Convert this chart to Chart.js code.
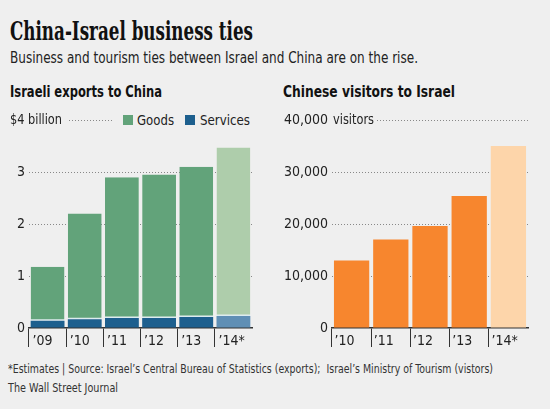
<!DOCTYPE html>
<html>
<head>
<meta charset="utf-8">
<script src="https://cdn.jsdelivr.net/npm/chart.js@4/dist/chart.umd.min.js"></script>
<style>
    body { margin: 0; background: #efefef; }
    #wrap { position: relative; width: 550px; height: 409px; background: #efefef; font-family: 'DejaVu Sans Condensed', 'DejaVu Sans', sans-serif; color: #111; overflow: hidden; }
    .abs { position: absolute; white-space: nowrap; transform-origin: 0 0; line-height: 1; }
    #title { left: 10px; top: 18px; font-family: 'DejaVu Serif Condensed', 'DejaVu Serif', serif; font-weight: bold; font-size: 26px; }
    #sub { left: 10px; top: 51px; font-size: 15px; color: #222; }
    .head { font-weight: bold; font-size: 15px; top: 85px; }
    .leg { top: 113px; font-size: 14px; color: #222; }
    .sw { position: absolute; width: 10px; height: 10px; top: 115px; }
    .foot { left: 8px; font-size: 13px; color: #333; }
    canvas { position: absolute; }
</style>
</head>
<body>
<div id="wrap">
    <div class="abs" id="title" data-w="243">China-Israel business ties</div>
    <div class="abs" id="sub" data-w="408">Business and tourism ties between Israel and China are on the rise.</div>
    <div class="abs head" style="left:10px" data-w="152">Israeli exports to China</div>
    <div class="abs head" style="left:283px" data-w="172">Chinese visitors to Israel</div>
    <div class="sw" style="left:123px; background:#62a37a"></div>
    <div class="abs leg" style="left:137px" data-w="37">Goods</div>
    <div class="sw" style="left:185px; background:#1d5f8e"></div>
    <div class="abs leg" style="left:200px" data-w="50">Services</div>
    <canvas id="exports" style="left:0; top:105px"></canvas>
    <canvas id="visitors" style="left:275px; top:105px"></canvas>
    <div class="abs foot" style="top:362px" data-w="485">*Estimates | Source: Israel’s Central Bureau of Statistics (exports);&nbsp; Israel’s Ministry of Tourism (vistors)</div>
    <div class="abs foot" style="top:381px" data-w="110">The Wall Street Journal</div>
</div>
<script>
// exports, $ billion (2014 estimated)
const exportYears = ['’09', '’10', '’11', '’12', '’13', '’14*']
const services = [0.14, 0.17, 0.19, 0.19, 0.21, 0.23]
const goods = [1.04, 2.03, 2.71, 2.76, 2.89, 3.24]
const exportTicks = [0, 1, 2, 3, 4]

// visitors (2014 estimated)
const visitorYears = ['’10', '’11', '’12', '’13', '’14*']
const visitors = [13000, 17000, 19600, 25400, 35000]
const visitorTicks = [0, 10000, 20000, 30000, 40000]

const FONT = "'DejaVu Sans Condensed', 'DejaVu Sans', sans-serif"

// squeeze the html texts to the widths of the original lettering
document.querySelectorAll('[data-w]').forEach((el) => {
    const w = el.getBoundingClientRect().width
    el.style.transform = 'scaleX(' + +el.dataset.w / w + ')'
})

function shade(n, normal, est) {
    return Array.from({ length: n }, (_, i) => (i === n - 1 ? est : normal))
}

// unit text and the short dotted line on the top tick
function topLabel(text, textX, textW, lineFrom, lineTo) {
    return {
        id: 'topLabel',
        afterDraw(chart) {
            const ctx = chart.ctx,
                y = chart.scales.y.getPixelForValue(chart.scales.y.max)
            ctx.save()
            ctx.font = '14px ' + FONT
            ctx.fillStyle = '#222'
            ctx.textBaseline = 'middle'
            const k = textW / ctx.measureText(text).width
            ctx.translate(textX, y)
            ctx.scale(k, 1)
            ctx.fillText(text, 0, 0)
            ctx.restore()
            ctx.save()
            ctx.strokeStyle = '#888'
            ctx.lineWidth = 1
            ctx.setLineDash([1, 2])
            ctx.beginPath()
            ctx.moveTo(lineFrom, y + 0.5)
            ctx.lineTo(lineTo, y + 0.5)
            ctx.stroke()
            ctx.restore()
        },
    }
}

function baseOptions(ticks, yWidth, padRight, labelShift, fmt) {
    const top = ticks[ticks.length - 1]
    return {
        responsive: false,
        animation: false,
        layout: { padding: { top: 15, right: padRight } },
        plugins: { legend: { display: false }, tooltip: { enabled: false } },
        scales: {
            x: {
                stacked: true,
                afterFit: (s) => (s.height = 27),
                border: { display: true, color: '#333', width: 1.5 },
                grid: {
                    offset: true,
                    drawOnChartArea: false,
                    drawTicks: true,
                    tickLength: 19,
                    lineWidth: 1,
                    color: (c) => (c.type === 'tick' ? '#333' : 'rgba(0,0,0,0)'),
                },
                ticks: {
                    align: 'start',
                    labelOffset: labelShift,
                    padding: -14,
                    color: '#222',
                    font: { family: FONT, size: 14 },
                },
            },
            y: {
                stacked: true,
                min: 0,
                max: top,
                afterFit: (s) => (s.width = yWidth),
                afterBuildTicks: (s) => (s.ticks = ticks.map((v) => ({ value: v }))),
                border: { display: false, dash: [1, 2] },
                grid: {
                    drawTicks: false,
                    color: (c) =>
                        c.tick && c.tick.value > 0 && c.tick.value < top ? '#888' : 'rgba(0,0,0,0)',
                    lineWidth: 1,
                },
                ticks: {
                    padding: 4,
                    color: '#222',
                    font: { family: FONT, size: 14 },
                    callback: fmt,
                },
            },
        },
    }
}

const exportsCanvas = document.getElementById('exports')
exportsCanvas.width = 270
exportsCanvas.height = 250
new Chart(exportsCanvas, {
    type: 'bar',
    data: {
        labels: exportYears,
        datasets: [
            {
                label: 'Services',
                data: services,
                backgroundColor: shade(services.length, '#1d5f8e', '#5f8fb5'),
                barPercentage: 0.91,
                categoryPercentage: 1,
                borderWidth: 0,
            },
            {
                label: 'Goods',
                data: goods,
                backgroundColor: shade(goods.length, '#62a37a', '#aecdab'),
                barPercentage: 0.91,
                categoryPercentage: 1,
                borderSkipped: false,
                borderWidth: { top: 0, left: 0, right: 0, bottom: 1.5 },
                borderColor: '#dcecef',
            },
        ],
    },
    options: baseOptions(exportTicks, 29, 18, -15, (v) => (v === 4 ? '' : v)),
    plugins: [topLabel('$4 billion', 10, 52, 69, 112)],
})

const visitorsCanvas = document.getElementById('visitors')
visitorsCanvas.width = 275
visitorsCanvas.height = 250
new Chart(visitorsCanvas, {
    type: 'bar',
    data: {
        labels: visitorYears,
        datasets: [
            {
                label: 'Visitors',
                data: visitors,
                backgroundColor: shade(visitors.length, '#f7862e', '#fdd5aa'),
                barPercentage: 0.9,
                categoryPercentage: 1,
                borderWidth: 0,
            },
        ],
    },
    options: baseOptions(visitorTicks, 57, 22, -17, (v) => v.toLocaleString('en-US')),
    plugins: [topLabel('visitors', 58, 41, 102, 253)],
})
</script>
</body>
</html>
